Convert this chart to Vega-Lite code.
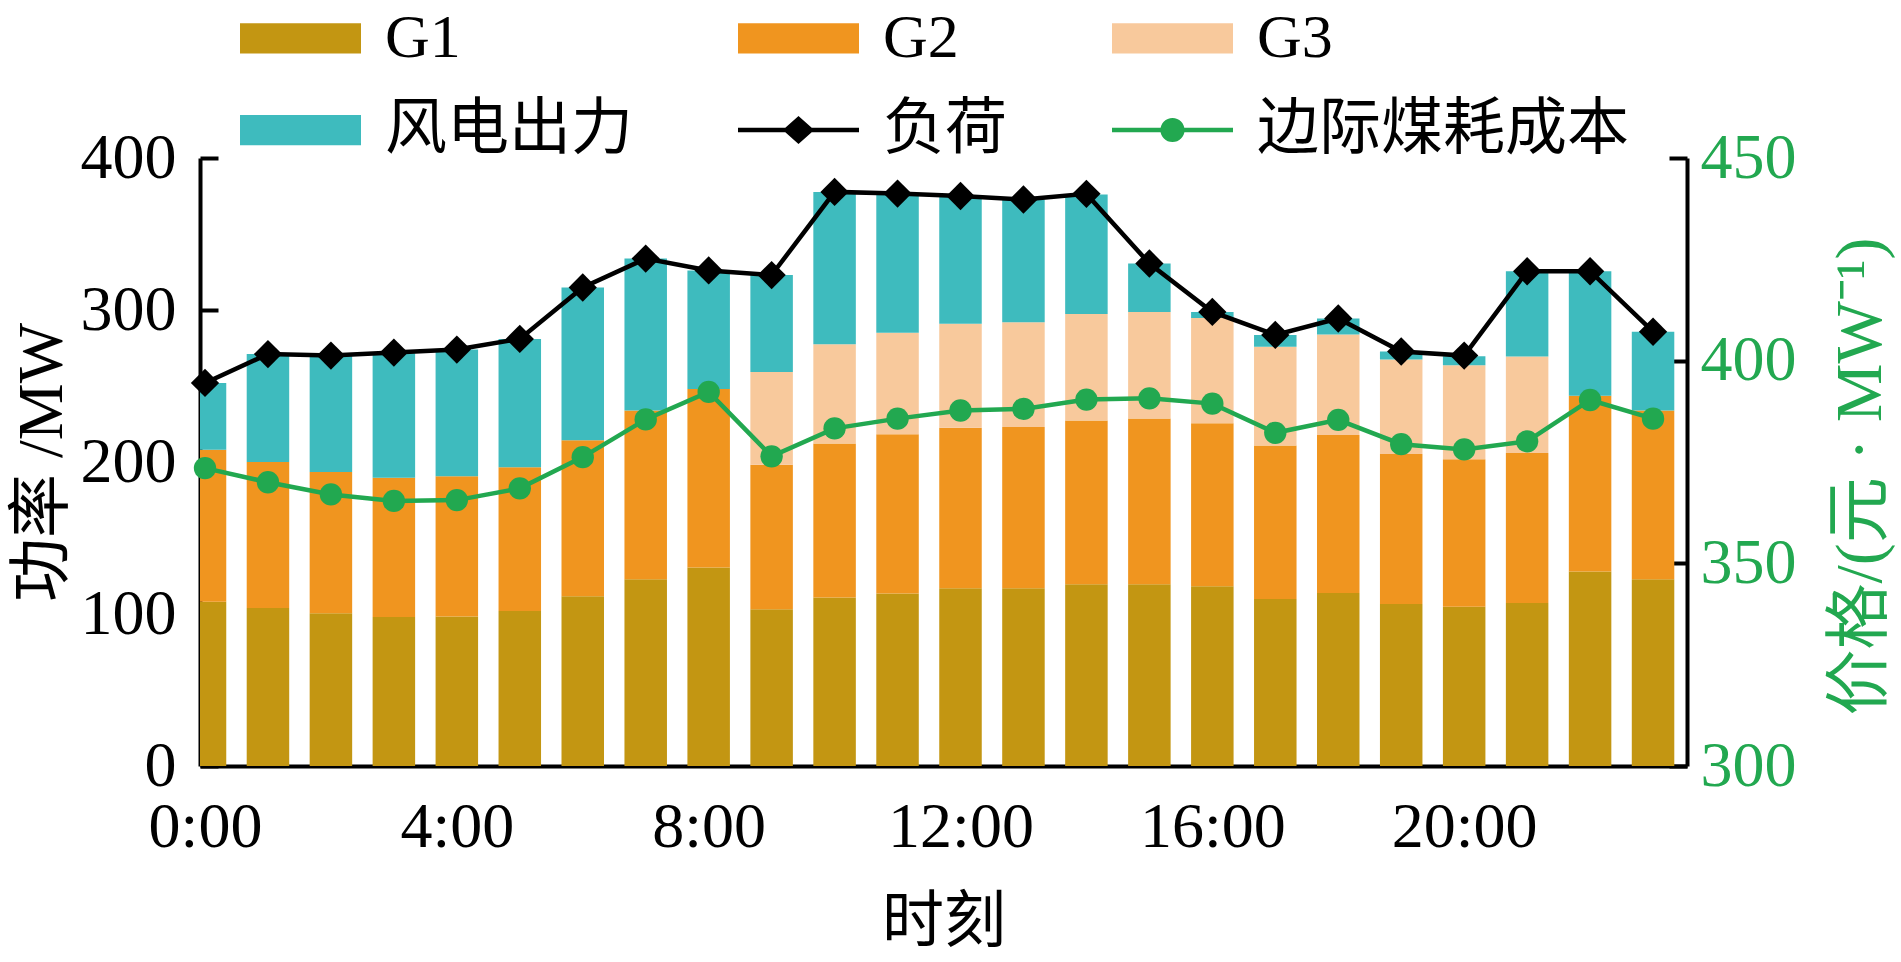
{
  "$schema": "https://vega.github.io/schema/vega-lite/v6.json",
  "width": 1487,
  "height": 608,
  "autosize": "none",
  "padding": {"left": 200, "top": 158, "right": 214, "bottom": 196},
  "datasets": {
    "bars": [
      {"hour": 0, "series": "G1", "value": 108}, {"hour": 0, "series": "G2", "value": 100}, {"hour": 0, "series": "风电出力", "value": 44},
      {"hour": 1, "series": "G1", "value": 104}, {"hour": 1, "series": "G2", "value": 96}, {"hour": 1, "series": "风电出力", "value": 71},
      {"hour": 2, "series": "G1", "value": 100.5}, {"hour": 2, "series": "G2", "value": 93}, {"hour": 2, "series": "风电出力", "value": 76.5},
      {"hour": 3, "series": "G1", "value": 98}, {"hour": 3, "series": "G2", "value": 91.6}, {"hour": 3, "series": "风电出力", "value": 82},
      {"hour": 4, "series": "G1", "value": 98.4}, {"hour": 4, "series": "G2", "value": 92.2}, {"hour": 4, "series": "风电出力", "value": 83.4},
      {"hour": 5, "series": "G1", "value": 102}, {"hour": 5, "series": "G2", "value": 94.6}, {"hour": 5, "series": "风电出力", "value": 84.4},
      {"hour": 6, "series": "G1", "value": 111.7}, {"hour": 6, "series": "G2", "value": 102.6}, {"hour": 6, "series": "风电出力", "value": 100.5},
      {"hour": 7, "series": "G1", "value": 122.9}, {"hour": 7, "series": "G2", "value": 110.9}, {"hour": 7, "series": "风电出力", "value": 100},
      {"hour": 8, "series": "G1", "value": 130.6}, {"hour": 8, "series": "G2", "value": 117.4}, {"hour": 8, "series": "风电出力", "value": 78},
      {"hour": 9, "series": "G1", "value": 103.1}, {"hour": 9, "series": "G2", "value": 95.1}, {"hour": 9, "series": "G3", "value": 61}, {"hour": 9, "series": "风电出力", "value": 63.8},
      {"hour": 10, "series": "G1", "value": 110.9}, {"hour": 10, "series": "G2", "value": 101.3}, {"hour": 10, "series": "G3", "value": 65.2}, {"hour": 10, "series": "风电出力", "value": 100.3},
      {"hour": 11, "series": "G1", "value": 113.5}, {"hour": 11, "series": "G2", "value": 104.7}, {"hour": 11, "series": "G3", "value": 66.8}, {"hour": 11, "series": "风电出力", "value": 91},
      {"hour": 12, "series": "G1", "value": 116.9}, {"hour": 12, "series": "G2", "value": 105.7}, {"hour": 12, "series": "G3", "value": 68.3}, {"hour": 12, "series": "风电出力", "value": 83.8},
      {"hour": 13, "series": "G1", "value": 116.9}, {"hour": 13, "series": "G2", "value": 106.2}, {"hour": 13, "series": "G3", "value": 68.9}, {"hour": 13, "series": "风电出力", "value": 80.7},
      {"hour": 14, "series": "G1", "value": 119.5}, {"hour": 14, "series": "G2", "value": 107.8}, {"hour": 14, "series": "G3", "value": 70.1}, {"hour": 14, "series": "风电出力", "value": 78.6},
      {"hour": 15, "series": "G1", "value": 119.5}, {"hour": 15, "series": "G2", "value": 109.1}, {"hour": 15, "series": "G3", "value": 70.1}, {"hour": 15, "series": "风电出力", "value": 31.9},
      {"hour": 16, "series": "G1", "value": 118.2}, {"hour": 16, "series": "G2", "value": 107.3}, {"hour": 16, "series": "G3", "value": 69.3}, {"hour": 16, "series": "风电出力", "value": 3.9},
      {"hour": 17, "series": "G1", "value": 109.9}, {"hour": 17, "series": "G2", "value": 101}, {"hour": 17, "series": "G3", "value": 64.9}, {"hour": 17, "series": "风电出力", "value": 7.8},
      {"hour": 18, "series": "G1", "value": 113.8}, {"hour": 18, "series": "G2", "value": 103.9}, {"hour": 18, "series": "G3", "value": 66.2}, {"hour": 18, "series": "风电出力", "value": 10.5},
      {"hour": 19, "series": "G1", "value": 106.5}, {"hour": 19, "series": "G2", "value": 98.7}, {"hour": 19, "series": "G3", "value": 62.3}, {"hour": 19, "series": "风电出力", "value": 5.2},
      {"hour": 20, "series": "G1", "value": 104.7}, {"hour": 20, "series": "G2", "value": 97.1}, {"hour": 20, "series": "G3", "value": 61.8}, {"hour": 20, "series": "风电出力", "value": 6},
      {"hour": 21, "series": "G1", "value": 107.3}, {"hour": 21, "series": "G2", "value": 98.7}, {"hour": 21, "series": "G3", "value": 63.4}, {"hour": 21, "series": "风电出力", "value": 56.1},
      {"hour": 22, "series": "G1", "value": 128}, {"hour": 22, "series": "G2", "value": 115.6}, {"hour": 22, "series": "风电出力", "value": 81.9},
      {"hour": 23, "series": "G1", "value": 122.9}, {"hour": 23, "series": "G2", "value": 110.9}, {"hour": 23, "series": "风电出力", "value": 51.9}
    ],
    "lines": [
      {"hour": 0, "load": 252, "price": 373.5},
      {"hour": 1, "load": 271, "price": 370},
      {"hour": 2, "load": 270, "price": 367},
      {"hour": 3, "load": 272, "price": 365.4},
      {"hour": 4, "load": 274, "price": 365.6},
      {"hour": 5, "load": 281, "price": 368.5},
      {"hour": 6, "load": 314.8, "price": 376.2},
      {"hour": 7, "load": 333.8, "price": 385.5},
      {"hour": 8, "load": 326, "price": 392.3},
      {"hour": 9, "load": 323, "price": 376.4},
      {"hour": 10, "load": 377.7, "price": 383.3},
      {"hour": 11, "load": 376.6, "price": 385.7},
      {"hour": 12, "load": 375, "price": 387.7},
      {"hour": 13, "load": 372.7, "price": 388.1},
      {"hour": 14, "load": 376.4, "price": 390.4},
      {"hour": 15, "load": 330.6, "price": 390.7},
      {"hour": 16, "load": 298.7, "price": 389.4},
      {"hour": 17, "load": 283.6, "price": 382.2},
      {"hour": 18, "load": 294.4, "price": 385.4},
      {"hour": 19, "load": 272.7, "price": 379.4},
      {"hour": 20, "load": 270, "price": 378.1},
      {"hour": 21, "load": 325.5, "price": 380.1},
      {"hour": 22, "load": 325.5, "price": 390.3},
      {"hour": 23, "load": 285.7, "price": 385.7}
    ]
  },
  "layer": [
    {
      "layer": [
        {
          "data": {"name": "bars"},
          "mark": {"type": "bar", "width": 42.5, "clip": true},
          "encoding": {
            "x": {
              "field": "hour", "type": "quantitative",
              "scale": {"domain": [0, 23.46], "nice": false, "zero": false},
              "axis": {"values": [0, 4, 8, 12, 16, 20], "labelExpr": "datum.value + ':00'", "tickSize": -24, "labelPadding": 53, "labelFlush": false, "labelOverlap": false, "title": "时刻", "titlePadding": 33}
            },
            "y": {
              "field": "value", "type": "quantitative", "stack": "zero",
              "scale": {"domain": [0, 400], "nice": false},
              "axis": {"values": [0, 100, 200, 300, 400], "tickSize": -18, "labelPadding": 42, "title": "功率 /MW", "titleFontSize": 64, "titlePadding": 6}
            },
            "order": {"field": "series", "sort": "ascending"},
            "color": {
              "field": "series", "type": "nominal",
              "scale": {
                "domain": ["G1", "G2", "G3", "风电出力", "负荷", "边际煤耗成本"],
                "range": ["#C39612", "#F0951F", "#F8C99C", "#3EBBBE", "#000000", "#22A850"]
              },
              "legend": {
                "orient": "none", "legendX": 40, "legendY": -180.5, "columns": 3, "direction": "horizontal", "title": null, "padding": 0,
                "symbolSize": 14641, "symbolStrokeWidth": 0, "labelOffset": 24, "labelLimit": 0,
                "labelFont": "Liberation Serif, Noto Sans CJK SC", "labelFontSize": 62, "labelColor": "#000000",
                "columnPadding": 104, "rowPadding": 0,
                "encode": {
                  "symbols": {"update": {
                    "shape": {"signal": "datum.value === '负荷' ? 'M-1,-0.037H1V0.037H-1Z M0,-0.23L0.26,0L0,0.23L-0.26,0Z' : datum.value === '边际煤耗成本' ? 'M-1,-0.037H1V0.037H-1Z M-0.2,0A0.2,0.2 0 1,1 0.2,0A0.2,0.2 0 1,1 -0.2,0Z' : 'M-1,-0.25H1V0.25H-1Z'"},
                    "fill": {"scale": "color", "field": "value"},
                    "stroke": {"value": "transparent"},
                    "opacity": {"value": 1}
                  }}
                }
              }
            }
          }
        },
        {
          "data": {"name": "lines"},
          "mark": {"type": "line", "strokeWidth": 4.5, "point": {"shape": "diamond", "size": 800, "filled": true, "opacity": 1}},
          "encoding": {
            "x": {
              "field": "hour", "type": "quantitative",
              "scale": {"domain": [0, 23.46], "nice": false, "zero": false},
              "axis": {"values": [0, 4, 8, 12, 16, 20], "labelExpr": "datum.value + ':00'", "tickSize": -24, "labelPadding": 53, "labelFlush": false, "labelOverlap": false, "title": "时刻", "titlePadding": 33}
            },
            "y": {
              "field": "load", "type": "quantitative",
              "scale": {"domain": [0, 400], "nice": false},
              "axis": {"values": [0, 100, 200, 300, 400], "tickSize": -18, "labelPadding": 42, "title": "功率 /MW", "titleFontSize": 64, "titlePadding": 6}
            },
            "color": {"datum": "负荷", "type": "nominal"}
          }
        }
      ]
    },
    {
      "data": {"name": "lines"},
      "mark": {"type": "line", "strokeWidth": 4.5, "point": {"shape": "circle", "size": 500, "filled": true, "opacity": 1}},
      "encoding": {
        "x": {
          "field": "hour", "type": "quantitative",
          "scale": {"domain": [0, 23.46], "nice": false, "zero": false},
          "axis": {"values": [0, 4, 8, 12, 16, 20], "labelExpr": "datum.value + ':00'", "tickSize": -24, "labelPadding": 53, "labelFlush": false, "labelOverlap": false, "title": "时刻", "titlePadding": 33}
        },
        "y": {
          "field": "price", "type": "quantitative",
          "scale": {"domain": [300, 450], "nice": false, "zero": false},
          "axis": {"orient": "right", "values": [300, 350, 400, 450], "tickSize": -18, "labelPadding": 31, "labelColor": "#22A850", "title": "价格/(元 · MW⁻¹)", "titleColor": "#22A850", "titleFontSize": 66, "titleAngle": -90, "titleBaseline": "top", "titlePadding": 32, "titleY": 318}
        },
        "color": {"datum": "边际煤耗成本", "type": "nominal"}
      }
    }
  ],
  "resolve": {"scale": {"y": "independent"}},
  "config": {
    "view": {"stroke": null},
    "axis": {
      "labelFont": "Liberation Serif, Noto Sans CJK SC",
      "labelFontSize": 64,
      "labelColor": "#000000",
      "titleFont": "Liberation Serif, Noto Sans CJK SC",
      "titleFontSize": 62,
      "titleFontWeight": "normal",
      "titleColor": "#000000",
      "domainColor": "#000000",
      "domainWidth": 4,
      "tickColor": "#000000",
      "tickWidth": 4,
      "grid": false
    }
  }
}
